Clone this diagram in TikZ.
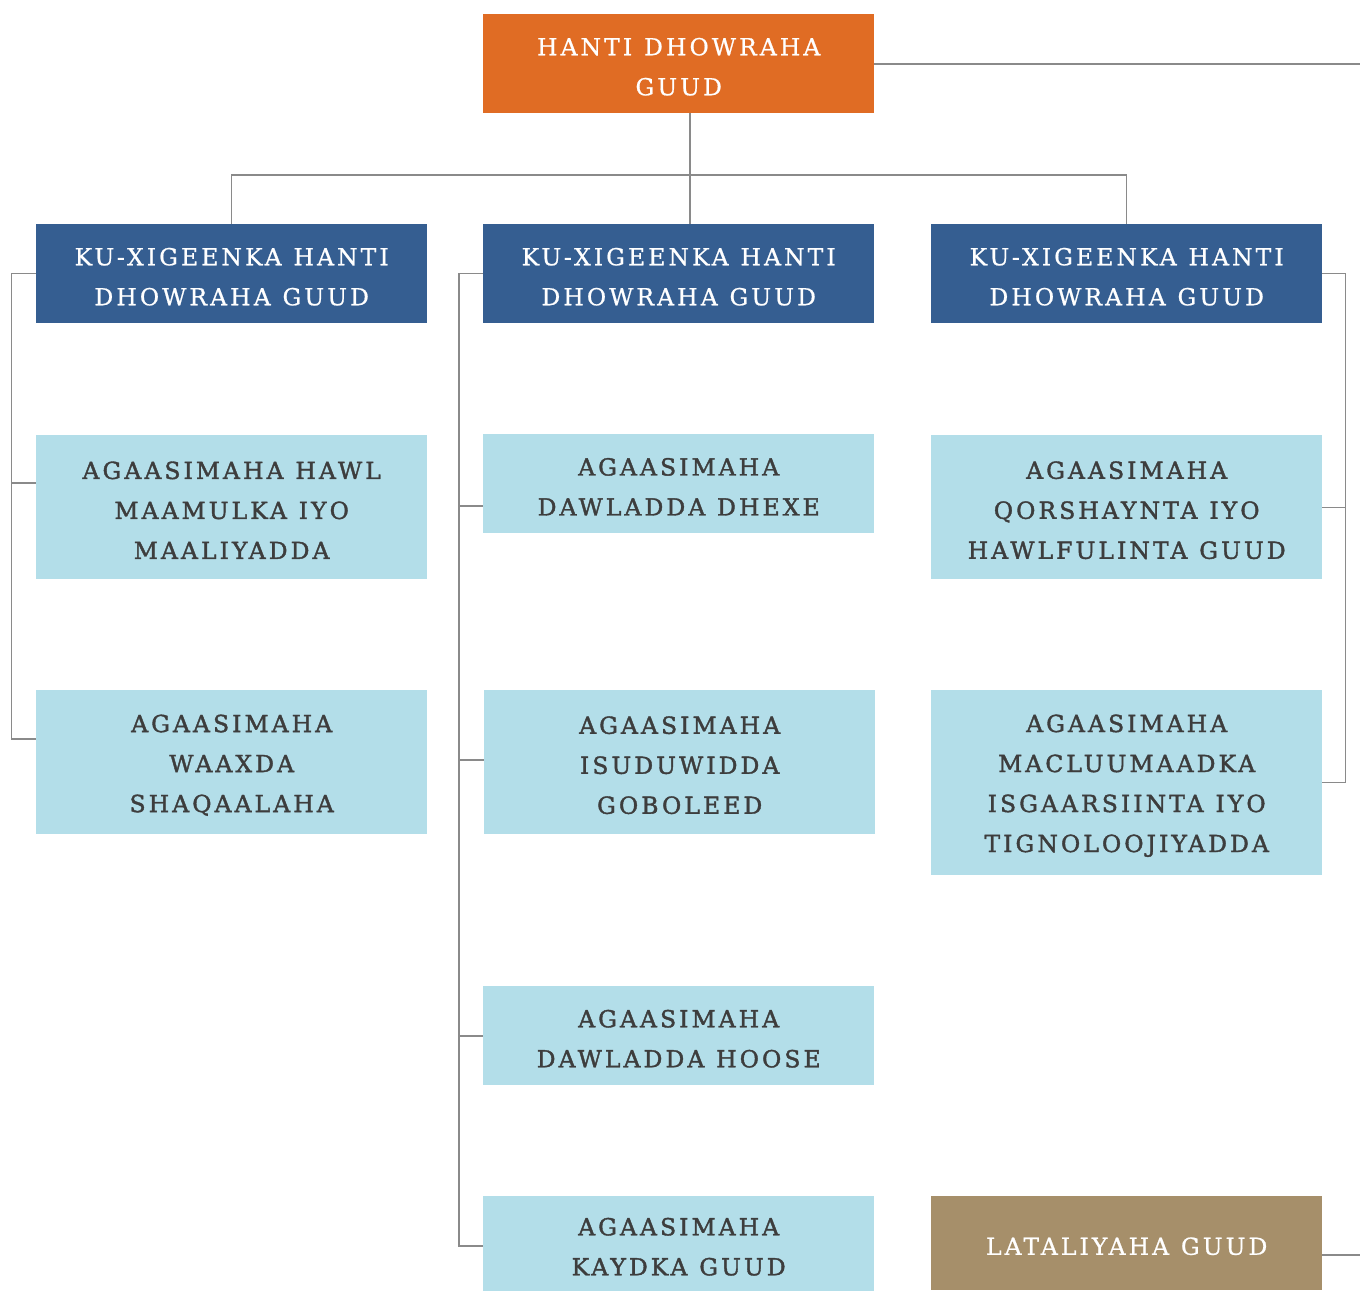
\documentclass[tikz,border=0pt]{standalone}
\usepackage{fontspec}
\newfontfamily\boxfont[LetterSpace=13,FakeBold=0.8]{DejaVu Serif}
\newfontfamily\darkfont[LetterSpace=13,FakeBold=1.6]{DejaVu Serif}
\newcommand\W{\hspace{4pt}\ }
\definecolor{orangeC}{HTML}{E06C24}
\definecolor{blueC}{HTML}{355E91}
\definecolor{lightC}{HTML}{B3DEE9}
\definecolor{tanC}{HTML}{A68F6A}
\definecolor{textC}{HTML}{3D3D3D}
\definecolor{lineC}{HTML}{8A8A8A}
\tikzset{
  box/.style={inner sep=0pt, minimum width=391pt, anchor=north west, align=center,
    text width=389pt, font={\boxfont\fontsize{23.5}{40}\selectfont},
    execute at begin node={\rule{0pt}{23.5pt}}},
  topbox/.style={box, fill=orangeC, text=white, minimum height=99pt},
  headbox/.style={box, fill=blueC, text=white, minimum height=99pt},
  unitbox/.style={box, fill=lightC, text=textC, font={\darkfont\fontsize{23.5}{40}\selectfont}},
  tanbox/.style={box, fill=tanC, text=white, minimum height=94pt},
  conn/.style={draw=lineC, line width=1.3pt},
}
\begin{document}
\begin{tikzpicture}[x=1pt,y=-1pt]
\useasboundingbox (0,0) rectangle (1360,1291);
\node[topbox] (top) at (483,14) {HANTI\W DHOWRAHA\\GUUD};
\node[headbox] (h1) at (36,224) {KU-XIGEENKA\W HANTI\\DHOWRAHA\W GUUD};
\node[headbox] (h2) at (483,224) {KU-XIGEENKA\W HANTI\\DHOWRAHA\W GUUD};
\node[headbox] (h3) at (931,224) {KU-XIGEENKA\W HANTI\\DHOWRAHA\W GUUD};
\node[unitbox, minimum height=144pt] (l1) at (36,435) {AGAASIMAHA\W HAWL\\MAAMULKA\W IYO\\MAALIYADDA};
\node[unitbox, minimum height=144pt] (l2) at (36,690) {AGAASIMAHA\\WAAXDA\\SHAQAALAHA};
\node[unitbox, minimum height=99pt] (m1) at (483,434) {AGAASIMAHA\\DAWLADDA\W DHEXE};
\node[unitbox, minimum height=144pt] (m2) at (484,690) {AGAASIMAHA\\ISUDUWIDDA\\GOBOLEED};
\node[unitbox, minimum height=99pt] (m3) at (483,986) {AGAASIMAHA\\DAWLADDA\W HOOSE};
\node[unitbox, minimum height=95pt] (m4) at (483,1196) {AGAASIMAHA\\KAYDKA\W GUUD};
\node[unitbox, minimum height=144pt] (r1) at (931,435) {AGAASIMAHA\\QORSHAYNTA\W IYO\\HAWLFULINTA\W GUUD};
\node[unitbox, minimum height=185pt] (r2) at (931,690) {AGAASIMAHA\\MACLUUMAADKA\\ISGAARSIINTA\W IYO\\TIGNOLOOJIYADDA};
\node[tanbox] (lat) at (931,1196) {LATALIYAHA\W GUUD};
% top connectors
\coordinate (tx) at (690,113);
\coordinate (bus) at (690,175);
\coordinate (eTop) at (1360,64);
\coordinate (eLat) at (1360,1255);
\draw[conn] (top.south -| tx) -- (bus);
\draw[conn] (h2.north -| tx) -- (bus);
\draw[conn] (h1.north) -- (h1.north |- bus) -- (h3.north |- bus) -- (h3.north);
\draw[conn] (top.east |- eTop) -- (eTop);
\draw[conn] (lat.east |- eLat) -- (eLat);
% left column
\coordinate (lx) at (11.5,0);
\coordinate (l1y) at (0,483);
\coordinate (l2y) at (0,739);
\draw[conn] (h1.west) -- (h1.west -| lx) -- (lx |- l2y) -- (l2.west |- l2y);
\draw[conn] (lx |- l1y) -- (l1.west |- l1y);
% middle column
\coordinate (mx) at (459,0);
\coordinate (m1y) at (0,506);
\coordinate (m2y) at (0,760);
\coordinate (m3y) at (0,1036);
\coordinate (m4y) at (0,1246);
\draw[conn] (h2.west) -- (h2.west -| mx) -- (mx |- m4y) -- (m4.west |- m4y);
\draw[conn] (mx |- m1y) -- (m1.west |- m1y);
\draw[conn] (mx |- m2y) -- (m2.west |- m2y);
\draw[conn] (mx |- m3y) -- (m3.west |- m3y);
% right column
\coordinate (rx) at (1345.7,0);
\draw[conn] (h3.east) -- (h3.east -| rx) -- (r2.east -| rx) -- (r2.east);
\draw[conn] (r1.east -| rx) -- (r1.east);
\end{tikzpicture}
\end{document}
